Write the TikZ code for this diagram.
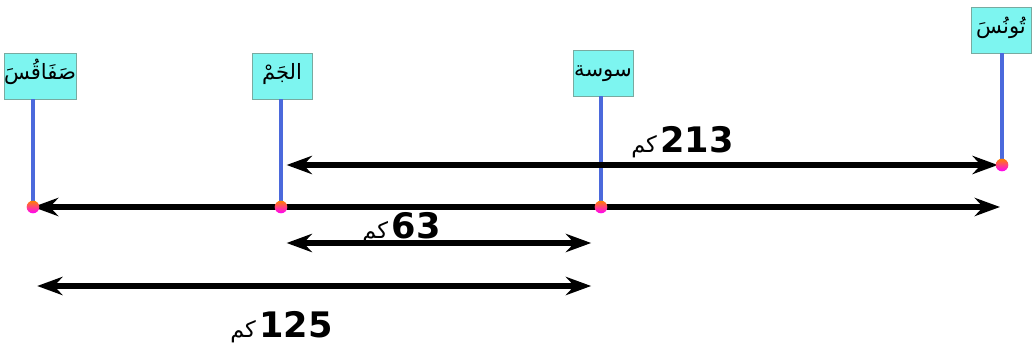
\documentclass[tikz,border=0pt]{standalone}
\usepackage{fontspec}
\setmainfont{Liberation Sans}
\newfontfamily\arabicfont[Script=Arabic]{DejaVu Sans}
\newfontfamily\numfont{DejaVu Sans}
\TeXXeTstate=1
\usetikzlibrary{arrows.meta, positioning}

\definecolor{boxcyan}{RGB}{125,245,240}
\definecolor{boxedge}{RGB}{120,170,160}
\definecolor{stemblue}{RGB}{75,105,220}

\begin{document}
\begin{tikzpicture}[
    x=0.025cm, y=-0.025cm,
    >={Stealth[length=18pt, width=13pt, inset=6pt]}, % Set default arrow tip style
    city/.style={draw=boxedge, fill=boxcyan, minimum width=1.5cm, inner xsep=0pt,
        inner ysep=2pt, text height=17pt, text depth=12pt,
        font=\arabicfont\fontsize{15}{16}\selectfont},
    stem/.style={stemblue, line width=2.4pt},
    dist/.style={<->, line width=4.2pt},
    km/.style={font=\numfont\fontsize{25}{26}\selectfont\bfseries, inner sep=0pt},
    kmword/.style={font=\arabicfont\fontsize{16}{17}\selectfont, inner sep=0pt},
    dot/.style={circle, inner sep=0pt, minimum size=9pt, top color=orange, bottom color=magenta}
]
    \useasboundingbox (0,0) rectangle (1033,347);

    % City boxes
    \node[city] (sfax)   at (40,76)   {\beginR صَفَاقُسَ\endR};
    \node[city] (jem)    at (282,76)  {\beginR الجَمْ\endR};
    \node[city] (sousse) at (603,73)  {\beginR سوسة\endR};
    \node[city] (tunis)  at (1001,30) {\beginR تُونُسَ\endR};

    % Points on the road
    \coordinate (sfaxpt)   at (33,207);
    \coordinate (jempt)    at (281,207);
    \coordinate (soussept) at (601,207);
    \coordinate (tunispt)  at (1002,165);
    \coordinate (roadend)  at (1000,207);
    \coordinate (row63)    at (0,243);
    \coordinate (row125)   at (0,286);

    % Stems from boxes down to the road
    \draw[stem] (sfax.south -| sfaxpt) -- (sfaxpt);
    \draw[stem] (jem.south -| jempt) -- (jempt);
    \draw[stem] (sousse.south -| soussept) -- (soussept);
    \draw[stem] (tunis.south -| tunispt) -- (tunispt);

    % Distance arrows
    \draw[dist] (sfaxpt) -- (roadend);
    \draw[dist] ([xshift=4pt]jempt |- tunispt) -- ([xshift=-3pt]tunispt);
    \draw[dist] ([xshift=4pt]jempt |- row63) -- ([xshift=-7pt]soussept |- row63);
    \draw[dist] ([xshift=3pt]sfaxpt |- row125) -- ([xshift=-7pt]soussept |- row125);

    % Dots
    \node[dot] (sfaxdot)   at (sfaxpt) {};
    \node[dot] (jemdot)    at (jempt) {};
    \node[dot] (soussedot) at (soussept) {};
    \node[dot] (tunisdot)  at (tunispt) {};

    % Distance labels
    \node[km] (d213) at (697,140) {213};
    \node[kmword, anchor=base east, xshift=-2pt] (w213) at (d213.base west) {\beginR كم\endR};
    \node[km] (d63)  at (416,226) {63};
    \node[kmword, anchor=base east, xshift=-2pt] (w63) at (d63.base west) {\beginR كم\endR};
    \node[km] (d125) at (296,325) {125};
    \node[kmword, anchor=base east, xshift=-2pt] (w125) at (d125.base west) {\beginR كم\endR};

\end{tikzpicture}
\end{document}
